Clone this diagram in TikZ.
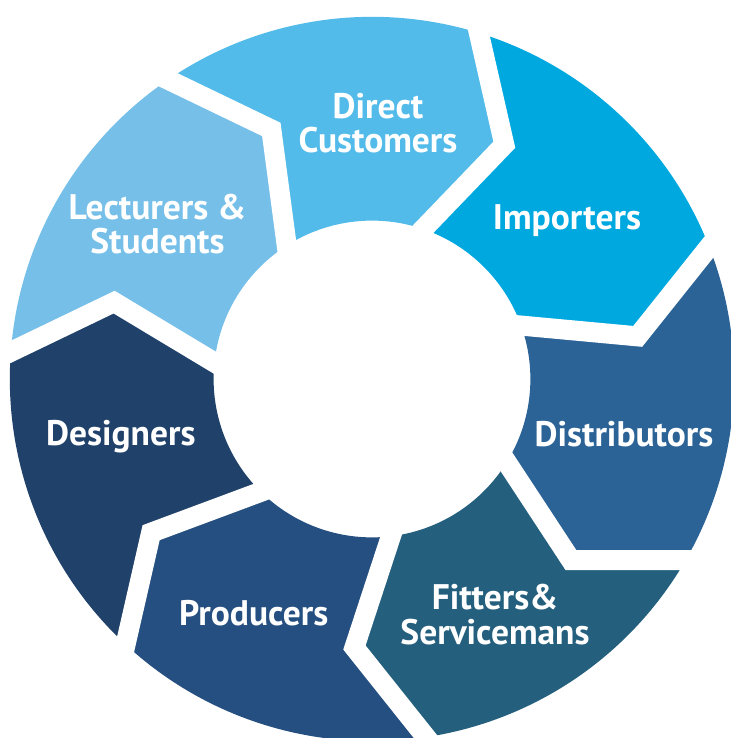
\documentclass[tikz,border=0pt]{standalone}
\usepackage{fontspec}
\setmainfont{PT Sans}
\usetikzlibrary{calc}
\definecolor{cLec}{HTML}{75BFE9}
\definecolor{cDir}{HTML}{53BBEA}
\definecolor{cImp}{HTML}{00A8E0}
\definecolor{cDis}{HTML}{2B6396}
\definecolor{cFit}{HTML}{24607E}
\definecolor{cPro}{HTML}{254F80}
\definecolor{cDes}{HTML}{20416A}
\begin{document}
\begin{tikzpicture}[x=1bp,y=1bp,
  gapline/.style={draw=white,line width=20bp,line join=miter,line cap=butt},
  lbl/.style={text=white,font=\fontsize{35.5bp}{34.5bp}\selectfont\bfseries,align=center,anchor=base,inner sep=0pt}]
\useasboundingbox (-372,-359) rectangle (359,379);
\def\rin{158.4}
\def\rout{362.2}
\def\rap{269.1}
% boundary points (inner, apex, outer)
\foreach \k in {0,...,6}{
  \pgfmathsetmacro\ti{174.0-51.4286*\k}
  \pgfmathsetmacro\tp{163.4-51.4286*\k}
  \pgfmathsetmacro\to{175.7-51.4286*\k}
  \coordinate (I\k) at (\ti:\rin);
  \coordinate (A\k) at (\tp:\rap);
  \coordinate (O\k) at (\to:\rout);
}
% ring segments
\foreach \k/\col in {0/cLec,1/cDir,2/cImp,3/cDis,4/cFit,5/cPro,6/cDes}{
  \pgfmathsetmacro\oa{175.7-51.4286*\k}
  \pgfmathsetmacro\ob{\oa-51.4286}
  \pgfmathsetmacro\ia{174.0-51.4286*\k}
  \pgfmathsetmacro\ib{\ia-51.4286}
  \pgfmathsetmacro\pa{163.4-51.4286*\k}
  \pgfmathsetmacro\pb{\pa-51.4286}
  \fill[\col] (\oa:\rout) arc[start angle=\oa,end angle=\ob,radius=\rout]
     -- (\pb:\rap) -- (\ib:\rin) arc[start angle=\ib,end angle=\ia,radius=\rin]
     -- (\pa:\rap) -- cycle;
}
% white gaps
\foreach \k in {0,...,6}{
  \draw[gapline] ($(A\k)!1.3!(I\k)$) -- (A\k) -- ($(A\k)!1.3!(O\k)$);
}
% labels (base anchor = baseline of the last line)
\node[lbl] (dir) at (6,226.3) {Direct\\Customers};
\node[lbl] (lec) at (-214.5,125) {Lecturers \&\\Students};
\node[lbl] (imp) at (195,149.7) {Importers};
\node[lbl] (dis) at (252,-67.7) {Distributors};
\node[lbl] (des) at (-251.2,-66) {Designers};
\node[lbl] (pro) at (-118.2,-246) {Producers};
\node[lbl] (fit) at (123,-265) {Fitters\&\\Servicemans};
\end{tikzpicture}
\end{document}
